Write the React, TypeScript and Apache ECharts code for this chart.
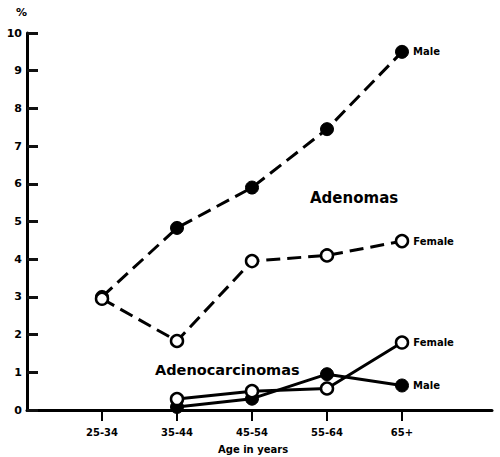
import React, { useEffect, useRef } from "react";
import * as echarts from "echarts";

const ageGroups = ["25-34", "35-44", "45-54", "55-64", "65+"];
const agePositions = [1, 2, 3, 4, 5];

const adenomaMale = [3.0, 4.83, 5.9, 7.45, 9.5];
const adenomaFemale = [2.95, 1.83, 3.95, 4.1, 4.48];
const carcinomaMale = [null, 0.08, 0.3, 0.95, 0.65];
const carcinomaFemale = [null, 0.29, 0.5, 0.57, 1.79];

const FONT = "DejaVu Sans";

function toData(values: (number | null)[], lastLabel: string) {
  const out: any[] = [];
  values.forEach((v, i) => {
    if (v === null) return;
    const item: any = { value: [agePositions[i], v] };
    if (i === values.length - 1) {
      item.label = {
        show: true,
        position: "right",
        distance: 4,
        formatter: lastLabel,
        color: "#000",
        fontFamily: FONT,
        fontWeight: "bold",
        fontSize: 10,
      };
    }
    out.push(item);
  });
  return out;
}

export default function App() {
  const ref = useRef<HTMLDivElement>(null);
  useEffect(() => {
    if (!ref.current) return;
    const chart = echarts.init(ref.current, undefined, { renderer: "svg" });
    const lineBase = (dashed: boolean) => ({
      color: "#000",
      width: 3,
      type: dashed ? [14, 7] : "solid",
    });
    chart.setOption({
      animation: false,
      backgroundColor: "#fff",
      grid: { left: 27, right: 8, top: 33, bottom: 47 },
      xAxis: {
        type: "value",
        min: 0,
        max: 6.2,
        splitLine: { show: false },
        axisLine: { show: true, lineStyle: { color: "#000", width: 3 } },
        axisTick: {
          show: true,
          customValues: agePositions,
          length: 11,
          inside: false,
          lineStyle: { color: "#000", width: 2 },
        },
        axisLabel: {
          customValues: agePositions,
          formatter: (v: number) => ageGroups[Math.round(v) - 1] ?? "",
          color: "#000",
          fontFamily: FONT,
          fontWeight: "bold",
          fontSize: 10,
          margin: 17,
        },
      },
      yAxis: {
        type: "value",
        min: 0,
        max: 10,
        interval: 1,
        name: "%",
        nameTextStyle: {
          color: "#000",
          fontFamily: FONT,
          fontWeight: "bold",
          fontSize: 11,
          align: "right",
        },
        splitLine: { show: false },
        axisLine: { show: true, lineStyle: { color: "#000", width: 3 } },
        axisTick: {
          show: true,
          inside: true,
          length: 11,
          lineStyle: { color: "#111", width: 3 },
        },
        axisLabel: {
          color: "#000",
          fontFamily: FONT,
          fontWeight: "bold",
          fontSize: 11,
          margin: 5,
        },
      },
      graphic: [
        {
          type: "text",
          left: 310,
          top: 190,
          style: {
            text: "Adenomas",
            fill: "#000",
            font: `bold 15px "${FONT}"`,
          },
        },
        {
          type: "text",
          left: 155,
          top: 362,
          style: {
            text: "Adenocarcinomas",
            fill: "#000",
            font: `bold 14.5px "${FONT}"`,
          },
        },
        {
          type: "text",
          left: 218,
          top: 444,
          style: {
            text: "Age in years",
            fill: "#000",
            font: `bold 10px "${FONT}"`,
          },
        },
      ],
      series: [
        {
          name: "Adenomas Male",
          type: "line",
          data: toData(adenomaMale, "Male"),
          symbol: "circle",
          symbolSize: 13,
          z: 4,
          lineStyle: lineBase(true),
          itemStyle: { color: "#000", borderColor: "#000", borderWidth: 1 },
        },
        {
          name: "Adenomas Female",
          type: "line",
          data: toData(adenomaFemale, "Female"),
          symbol: "circle",
          symbolSize: 12,
          z: 5,
          lineStyle: lineBase(true),
          itemStyle: { color: "#fff", borderColor: "#000", borderWidth: 2.5 },
        },
        {
          name: "Adenocarcinomas Male",
          type: "line",
          data: toData(carcinomaMale, "Male"),
          symbol: "circle",
          symbolSize: 13,
          z: 3,
          lineStyle: lineBase(false),
          itemStyle: { color: "#000", borderColor: "#000", borderWidth: 1 },
        },
        {
          name: "Adenocarcinomas Female",
          type: "line",
          data: toData(carcinomaFemale, "Female"),
          symbol: "circle",
          symbolSize: 12,
          z: 4,
          lineStyle: lineBase(false),
          itemStyle: { color: "#fff", borderColor: "#000", borderWidth: 2.5 },
        },
      ],
    });
    return () => chart.dispose();
  }, []);
  return (
    <div
      ref={ref}
      style={{ position: "fixed", left: 0, top: 0, width: 500, height: 457 }}
    />
  );
}
